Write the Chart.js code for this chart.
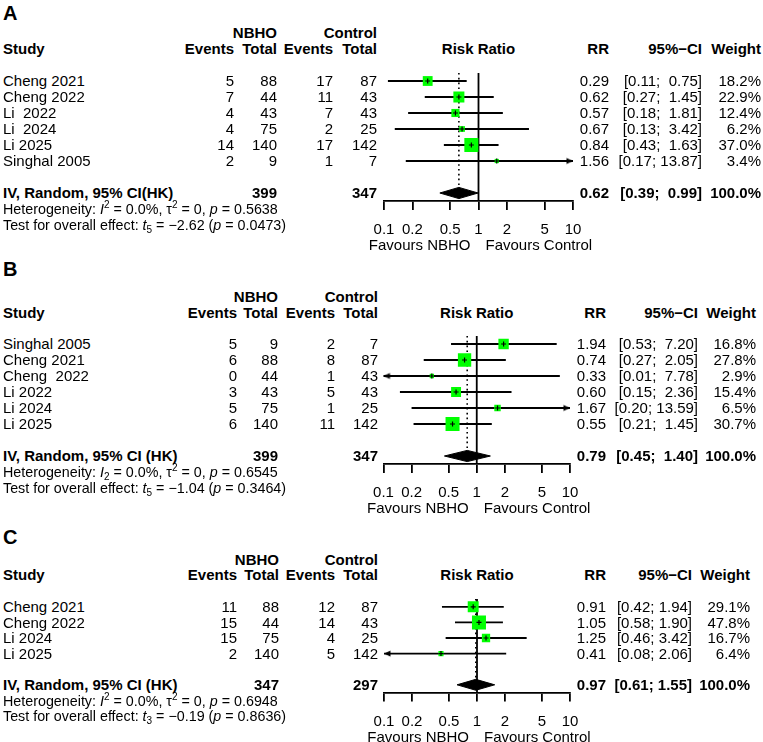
<!DOCTYPE html>
<html>
<head>
<meta charset="utf-8">
<script src="https://cdn.jsdelivr.net/npm/chart.js@4.4.1/dist/chart.umd.min.js"></script>
<style>
  body { margin: 0; background: #fff; }
  #page { position: relative; width: 763px; height: 742px; overflow: hidden; background: #fff;
          font-family: "Liberation Sans", Arial, sans-serif; color: #000; }
  .t { position: absolute; font-size: 15px; line-height: 16px; white-space: pre; }
  .b { font-weight: bold; }
  .stat { font-size: 14.3px; }
  .lab { font-size: 20px; font-weight: bold; }
  sup, sub { font-size: 10px; line-height: 0; position: relative; vertical-align: baseline; }
  sup { top: -6px; }
  sub { top: 3px; }
  canvas { position: absolute; }
</style>
</head>
<body>
<div id="page"></div>
<script>
// Panel A
const studiesA = ['Cheng 2021', 'Cheng 2022', 'Li  2022', 'Li  2024', 'Li 2025', 'Singhal 2005'];
const nbhoEventsA = [5, 7, 4, 4, 14, 2];
const nbhoTotalA = [88, 44, 43, 75, 140, 9];
const ctrlEventsA = [17, 11, 7, 2, 17, 1];
const ctrlTotalA = [87, 43, 43, 25, 142, 7];
const rrA = [0.29, 0.62, 0.57, 0.67, 0.84, 1.56];
const lowerA = [0.11, 0.27, 0.18, 0.13, 0.43, 0.17];
const upperA = [0.75, 1.45, 1.81, 3.42, 1.63, 13.87];
const weightA = [18.2, 22.9, 12.4, 6.2, 37.0, 3.4];
const pooledA = [0.62, 0.39, 0.99];
const totalsA = [399, 347];
const hetA = ['0.0%', '0', '0.5638'];
const testA = ['5', '−2.62', '0.0473'];

// Panel B
const studiesB = ['Singhal 2005', 'Cheng 2021', 'Cheng  2022', 'Li 2022', 'Li 2024', 'Li 2025'];
const nbhoEventsB = [5, 6, 0, 3, 5, 6];
const nbhoTotalB = [9, 88, 44, 43, 75, 140];
const ctrlEventsB = [2, 8, 1, 5, 1, 11];
const ctrlTotalB = [7, 87, 43, 43, 25, 142];
const rrB = [1.94, 0.74, 0.33, 0.60, 1.67, 0.55];
const lowerB = [0.53, 0.27, 0.01, 0.15, 0.20, 0.21];
const upperB = [7.20, 2.05, 7.78, 2.36, 13.59, 1.45];
const weightB = [16.8, 27.8, 2.9, 15.4, 6.5, 30.7];
const pooledB = [0.79, 0.45, 1.40];
const totalsB = [399, 347];
const hetB = ['0.0%', '0', '0.6545'];
const testB = ['5', '−1.04', '0.3464'];

// Panel C
const studiesC = ['Cheng 2021', 'Cheng 2022', 'Li 2024', 'Li 2025'];
const nbhoEventsC = [11, 15, 15, 2];
const nbhoTotalC = [88, 44, 75, 140];
const ctrlEventsC = [12, 14, 4, 5];
const ctrlTotalC = [87, 43, 25, 142];
const rrC = [0.91, 1.05, 1.25, 0.41];
const lowerC = [0.42, 0.58, 0.46, 0.08];
const upperC = [1.94, 1.90, 3.42, 2.06];
const weightC = [29.1, 47.8, 16.7, 6.4];
const pooledC = [0.97, 0.61, 1.55];
const totalsC = [347, 297];
const hetC = ['0.0%', '0', '0.6948'];
const testC = ['3', '−0.19', '0.8636'];

const tickValues = [0.1, 0.2, 0.5, 1, 2, 5, 10];
const xMin = 0.1, xMax = 10;

const FONT = '"Liberation Sans", Arial, sans-serif';
const page = document.getElementById('page');

function put(html, x, y, align, cls, lh) {
    lh = lh || 16;
    const el = document.createElement('div');
    el.className = 't ' + (cls || '');
    el.style.lineHeight = lh + 'px';
    el.innerHTML = html;
    if (align === 'right') {
        el.style.left = (x - 400) + 'px'; el.style.width = '400px'; el.style.textAlign = 'right';
    } else if (align === 'center') {
        el.style.left = (x - 200) + 'px'; el.style.width = '400px'; el.style.textAlign = 'center';
    } else {
        el.style.left = x + 'px';
    }
    el.style.top = (y - lh / 2) + 'px';
    page.appendChild(el);
}

// formats the "[lo; hi]" column with padding like R does
function ciText(lo, hi, wLo, wHi) {
    return '[' + lo.toFixed(2).padStart(wLo) + '; ' + hi.toFixed(2).padStart(wHi) + ']';
}

// arrow head image with its tip at the image centre
function arrowHead(dir) {
    const c = document.createElement('canvas');
    c.width = 16; c.height = 9;
    const g = c.getContext('2d');
    g.fillStyle = '#000';
    g.beginPath();
    if (dir > 0) {
        g.moveTo(8, 4.5); g.lineTo(1.5, 1.5); g.lineTo(1.5, 7.5);
    } else {
        g.moveTo(8, 4.5); g.lineTo(14.5, 1.5); g.lineTo(14.5, 7.5);
    }
    g.closePath();
    g.fill();
    return c;
}
const arrowRight = arrowHead(1);
const arrowLeft = arrowHead(-1);

function drawPanel(p) {
    const n = p.studies.length;
    const L = p.layout;
    const sumRow = n + 1;
    const padTop = 10, axisH = 40, canvasLeft = 330, canvasW = 270;
    const chartH = L.step * (n + 2);
    const canvasH = Math.ceil(padTop + chartH + axisH);
    const canvasTop = L.row0 - L.step / 2 - padTop;
    const rowY = i => L.row0 + i * L.step;

    const canvas = document.createElement('canvas');
    canvas.width = canvasW; canvas.height = canvasH;
    canvas.style.left = canvasLeft + 'px'; canvas.style.top = canvasTop + 'px';
    canvas.style.width = canvasW + 'px'; canvas.style.height = canvasH + 'px';
    page.appendChild(canvas);

    const wMax = Math.max(...p.weight);
    const pts = p.rr.map((v, i) => ({ x: v, y: i }));
    const datasets = [];

    // little black cross on each estimate
    datasets.push({ type: 'scatter', data: pts, pointStyle: 'cross', pointRadius: 2.5,
        borderColor: '#000', borderWidth: 1.2, order: 0 });
    // green squares, area ~ weight
    datasets.push({ type: 'scatter', data: pts, pointStyle: 'rect',
        pointRadius: ctx => 9.9 * Math.sqrt(p.weight[ctx.dataIndex] / wMax),
        backgroundColor: '#00ff00', borderColor: '#00ff00', borderWidth: 0, order: 1 });
    // confidence intervals
    p.rr.forEach((v, i) => {
        datasets.push({ type: 'line', data: [
            { x: Math.max(p.lower[i], xMin), y: i }, { x: Math.min(p.upper[i], xMax), y: i }],
            borderColor: '#000', borderWidth: 1.8, pointRadius: 0, order: 3, clip: false });
    });
    // arrows for intervals running off the axis
    const arrows = [], heads = [];
    p.rr.forEach((v, i) => {
        if (p.upper[i] > xMax) { arrows.push({ x: xMax, y: i }); heads.push(arrowRight); }
        if (p.lower[i] < xMin) { arrows.push({ x: xMin, y: i }); heads.push(arrowLeft); }
    });
    datasets.push({ type: 'scatter', data: arrows, pointStyle: ctx => heads[ctx.dataIndex],
        pointRadius: 4, clip: false, order: 2 });
    // pooled diamond
    const [est, lo, hi] = p.pooled;
    const dh = 0.35;
    datasets.push({ type: 'line', data: [
        { x: lo, y: sumRow }, { x: est, y: sumRow - dh }, { x: hi, y: sumRow },
        { x: est, y: sumRow + dh }, { x: lo, y: sumRow }],
        fill: 'shape', backgroundColor: '#000', borderColor: '#000', borderWidth: 1,
        pointRadius: 0, tension: 0, order: 2 });
    // dotted line at pooled estimate
    datasets.push({ type: 'line', data: [{ x: est, y: -0.5 }, { x: est, y: sumRow - dh }],
        borderColor: '#000', borderWidth: 1.6, borderDash: [1.6, 3.2], pointRadius: 0, order: 4 });
    // line of no effect
    datasets.push({ type: 'line', data: [{ x: 1, y: -0.5 }, { x: 1, y: n + 1.5 }],
        borderColor: '#000', borderWidth: 1.8, pointRadius: 0, order: 5, clip: false });

    const chart = new Chart(canvas, {
        type: 'scatter',
        data: { datasets: datasets },
        options: {
            responsive: false,
            animation: false,
            layout: { padding: { left: L.plotL - canvasLeft, right: canvasLeft + canvasW - L.plotR, top: padTop, bottom: 0 } },
            plugins: { legend: { display: false }, tooltip: { enabled: false } },
            elements: { point: { radius: 0 } },
            scales: {
                x: {
                    type: 'logarithmic', min: xMin, max: xMax,
                    afterBuildTicks: s => { s.ticks = tickValues.map(v => ({ value: v })); },
                    afterFit: s => { s.height = canvasH - padTop - chartH; },
                    ticks: { callback: v => String(v), autoSkip: false, maxRotation: 0, padding: 11,
                             color: '#000', font: { family: FONT, size: 15 } },
                    grid: { drawOnChartArea: false, drawTicks: true, tickLength: 9, color: '#000', lineWidth: 1.8 },
                    border: { display: true, color: '#000', width: 1.8 }
                },
                y: { type: 'linear', reverse: true, min: -0.5, max: n + 1.5, display: false }
            }
        }
    });

    const xOne = canvasLeft + chart.scales.x.getPixelForValue(1);
    const axisY = canvasTop + chart.chartArea.bottom;

    // texts
    put(p.label, 3, L.label, 'left', 'lab', 22);
    put('NBHO', L.colTot, L.head1, 'right', 'b');
    put('Control', L.colTot2, L.head1, 'right', 'b');
    put('Study', 3, L.head2, 'left', 'b');
    put('Events', L.colEv, L.head2, 'right', 'b');
    put('Total', L.colTot, L.head2, 'right', 'b');
    put('Events', L.colEv2, L.head2, 'right', 'b');
    put('Total', L.colTot2, L.head2, 'right', 'b');
    put('Risk Ratio', xOne, L.head2, 'center', 'b');
    put('RR', L.colRR, L.head2, 'right', 'b');
    put('95%−CI', L.colCI, L.head2, 'right', 'b');
    put('Weight', L.colW, L.head2, 'right', 'b');

    const allLo = p.lower.concat([lo]), allHi = p.upper.concat([hi]);
    const wLo = Math.max(...allLo.map(v => v.toFixed(2).length));
    const wHi = Math.max(...allHi.map(v => v.toFixed(2).length));

    p.studies.forEach((s, i) => {
        const y = rowY(i);
        put(s, 3, y, 'left');
        put(String(p.nbhoEvents[i]), L.colEv, y, 'right');
        put(String(p.nbhoTotal[i]), L.colTot, y, 'right');
        put(String(p.ctrlEvents[i]), L.colEv2, y, 'right');
        put(String(p.ctrlTotal[i]), L.colTot2, y, 'right');
        put(p.rr[i].toFixed(2), L.colRR, y, 'right');
        put(ciText(p.lower[i], p.upper[i], wLo, wHi), L.colCI, y, 'right');
        put(p.weight[i].toFixed(1) + '%', L.colW, y, 'right');
    });

    const ys = rowY(sumRow);
    put(p.sumLabel, 3, ys, 'left', 'b');
    put(String(p.totals[0]), L.colTot, ys, 'right', 'b');
    put(String(p.totals[1]), L.colTot2, ys, 'right', 'b');
    put(est.toFixed(2), L.colRR, ys, 'right', 'b');
    put(ciText(lo, hi, wLo, wHi), L.colCI, ys, 'right', 'b');
    put('100.0%', L.colW, ys, 'right', 'b');

    const i2 = p.i2Sub ? '<i>I</i><sub>2</sub>' : '<i>I</i><sup>2</sup>';
    put('Heterogeneity: ' + i2 + ' = ' + p.het[0] + ', τ<sup>2</sup> = ' + p.het[1] +
        ', <i>p</i> = ' + p.het[2], 3, ys + L.step, 'left', 'stat');
    put('Test for overall effect: <i>t</i><sub>' + p.test[0] + '</sub> = ' + p.test[1] +
        ' (<i>p</i> = ' + p.test[2] + ')', 3, ys + 2 * L.step, 'left', 'stat');

    put('Favours NBHO', xOne - 8, axisY + 44, 'right');
    put('Favours Control', xOne + 7, axisY + 44, 'left');
}

const panels = [
    { label: 'A', studies: studiesA, nbhoEvents: nbhoEventsA, nbhoTotal: nbhoTotalA, ctrlEvents: ctrlEventsA,
      ctrlTotal: ctrlTotalA, rr: rrA, lower: lowerA, upper: upperA, weight: weightA, pooled: pooledA,
      totals: totalsA, het: hetA, test: testA, sumLabel: 'IV, Random, 95% CI(HK)', i2Sub: false,
      layout: { label: 13, head1: 33, head2: 49, row0: 81, step: 16, colEv: 234, colTot: 277, colEv2: 333,
                colTot2: 377, colRR: 609, colCI: 702, colW: 761, plotL: 384, plotR: 573 } },
    { label: 'B', studies: studiesB, nbhoEvents: nbhoEventsB, nbhoTotal: nbhoTotalB, ctrlEvents: ctrlEventsB,
      ctrlTotal: ctrlTotalB, rr: rrB, lower: lowerB, upper: upperB, weight: weightB, pooled: pooledB,
      totals: totalsB, het: hetB, test: testB, sumLabel: 'IV, Random, 95% CI (HK)', i2Sub: true,
      layout: { label: 269, head1: 297, head2: 313, row0: 343.5, step: 16, colEv: 237, colTot: 278, colEv2: 335,
                colTot2: 378, colRR: 606, colCI: 698, colW: 756, plotL: 383.5, plotR: 570 } },
    { label: 'C', studies: studiesC, nbhoEvents: nbhoEventsC, nbhoTotal: nbhoTotalC, ctrlEvents: ctrlEventsC,
      ctrlTotal: ctrlTotalC, rr: rrC, lower: lowerC, upper: upperC, weight: weightC, pooled: pooledC,
      totals: totalsC, het: hetC, test: testC, sumLabel: 'IV, Random, 95% CI (HK)', i2Sub: false,
      layout: { label: 537, head1: 560, head2: 575, row0: 607, step: 15.6, colEv: 237, colTot: 279, colEv2: 335,
                colTot2: 378, colRR: 606, colCI: 692, colW: 750, plotL: 384, plotR: 570 } }
];

panels.forEach(drawPanel);
</script>
</body>
</html>
